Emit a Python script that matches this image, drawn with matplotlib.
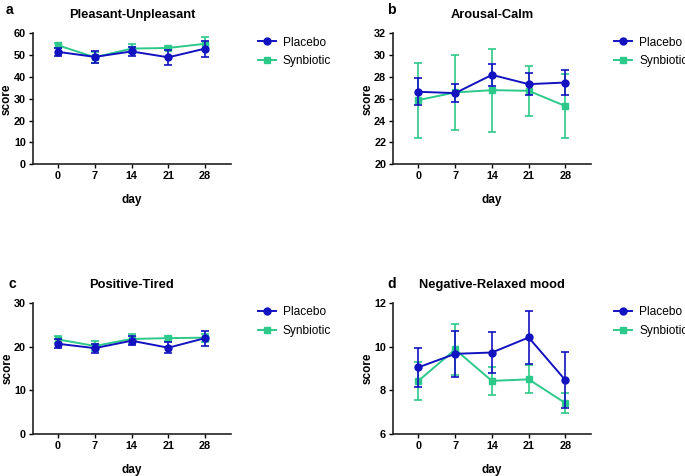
import matplotlib
matplotlib.use("Agg")
import matplotlib.pyplot as plt
from matplotlib.lines import Line2D

plt.rcParams['font.family'] = ['Liberation Sans', 'DejaVu Sans']

days = [0, 7, 14, 21, 28]

# a - Pleasant-Unpleasant
a_plac = [51.5, 49.2, 51.7, 49.0, 53.0]
a_plac_err = [1.9, 2.8, 2.0, 3.3, 3.7]
a_syn = [54.5, 49.0, 53.0, 53.3, 55.2]
a_syn_err = [1.0, 2.4, 2.2, 1.0, 3.0]

# b - Arousal-Calm
b_plac = [26.64, 26.52, 28.19, 27.34, 27.49]
b_plac_err = [1.22, 0.80, 1.00, 1.02, 1.16]
b_syn = [25.88, 26.58, 26.79, 26.73, 25.33]
b_syn_err = [3.44, 3.47, 3.80, 2.29, 2.93]

# c - Positive-Tired
c_plac = [20.7, 19.7, 21.4, 19.8, 22.0]
c_plac_err = [1.0, 1.0, 1.0, 1.3, 1.7]
c_syn = [21.7, 20.2, 21.8, 22.0, 22.1]
c_syn_err = [0.9, 1.1, 1.2, 0.6, 0.9]

# d - Negative-Relaxed mood
d_plac = [9.06, 9.68, 9.74, 10.43, 8.47]
d_plac_err = [0.90, 1.04, 0.92, 1.20, 1.28]
d_syn = [8.44, 9.88, 8.44, 8.51, 7.42]
d_syn_err = [0.88, 1.18, 0.63, 0.64, 0.47]

blue = '#1212c0'
green = '#2dc98a'

panels = [
    ('a', 'Pleasant-Unpleasant', a_plac, a_plac_err, a_syn, a_syn_err, (0, 60), [0, 10, 20, 30, 40, 50, 60]),
    ('b', 'Arousal-Calm', b_plac, b_plac_err, b_syn, b_syn_err, (20, 32), [20, 22, 24, 26, 28, 30, 32]),
    ('c', 'Positive-Tired', c_plac, c_plac_err, c_syn, c_syn_err, (0, 30), [0, 10, 20, 30]),
    ('d', 'Negative-Relaxed mood', d_plac, d_plac_err, d_syn, d_syn_err, (6, 12), [6, 8, 10, 12]),
]

fig = plt.figure(figsize=(6.85, 4.76), dpi=100)
positions = [
    [0.048, 0.655, 0.289, 0.275],
    [0.574, 0.655, 0.289, 0.275],
    [0.048, 0.088, 0.289, 0.275],
    [0.574, 0.088, 0.289, 0.275],
]
# panel letter positions (figure fraction)
letter_xy = [(0.008, 0.978), (0.565, 0.978), (0.012, 0.404), (0.565, 0.404)]
legend_x = [1.1, 1.08, 1.1, 1.08]

handles = [
    Line2D([], [], color=blue, marker='o', markersize=5, lw=1.4),
    Line2D([], [], color=green, marker='s', markersize=5, lw=1.4),
]

for pos, lxy, lgx, (lab, title, pl, ple, sy, sye, ylim, yt) in zip(positions, letter_xy, legend_x, panels):
    ax = fig.add_axes(pos)
    ax.errorbar(days, sy, yerr=sye, color=green, marker='s', markersize=5,
                lw=1.4, capsize=3, capthick=1.2, elinewidth=1.2, zorder=2)
    ax.errorbar(days, pl, yerr=ple, color=blue, marker='o', markersize=5,
                lw=1.4, capsize=3, capthick=1.2, elinewidth=1.2, zorder=3)
    ax.set_xlim(-4.8, 32.9)
    ax.set_ylim(*ylim)
    ax.set_xticks(days)
    ax.set_yticks(yt)
    ax.spines['top'].set_visible(False)
    ax.spines['right'].set_visible(False)
    for s in ['left', 'bottom']:
        ax.spines[s].set_linewidth(1.2)
        ax.spines[s].set_color('#222222')
    ax.tick_params(direction='out', length=3, width=1, labelsize=7.8, pad=2)
    for t in ax.get_xticklabels() + ax.get_yticklabels():
        t.set_fontweight('bold')
    ax.set_xlabel('day', fontsize=8.5, fontweight='bold', labelpad=9)
    ax.set_ylabel('score', fontsize=8.5, fontweight='bold', labelpad=0.5)
    ax.set_title(title, fontsize=9.3, fontweight='bold', pad=11)
    fig.text(lxy[0], lxy[1], lab, fontsize=10, fontweight='bold', ha='left', va='center')
    ax.legend(handles, ['Placebo', 'Synbiotic'], loc='upper left', bbox_to_anchor=(lgx, 1.03),
              frameon=False, fontsize=8.6, handlelength=1.5, handletextpad=0.6,
              labelspacing=0.55, borderaxespad=0.2)

fig.savefig('out.png', dpi=100)
